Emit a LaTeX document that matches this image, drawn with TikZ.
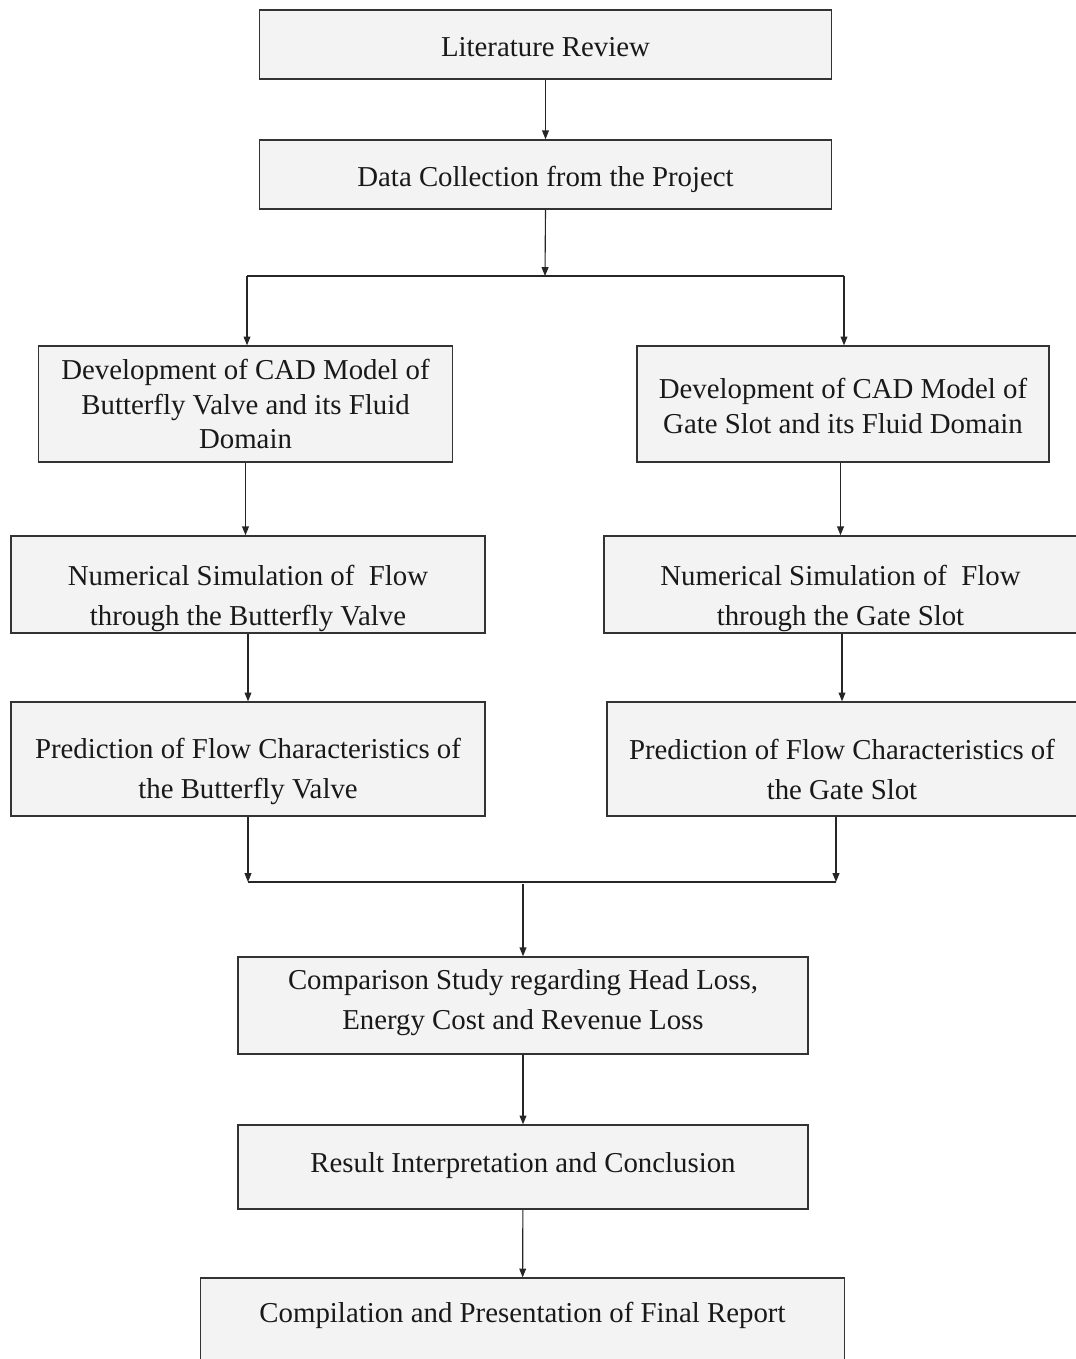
\documentclass[tikz,border=0pt]{standalone}
\usepackage{fontspec}
\setmainfont{Liberation Serif}
\usetikzlibrary{arrows.meta}
\definecolor{boxfill}{HTML}{F3F3F3}
\definecolor{boxline}{HTML}{333333}
\newcommand{\padtop}[1]{\rule{0pt}{#1}}
\newcommand{\padbot}[1]{\rule[-#1]{0pt}{0pt}}
\tikzset{
  box/.style={draw=boxline, fill=boxfill, line width=0.9pt, align=center, inner sep=0pt,
    font=\fontsize{20.5}{28.5}\selectfont, text=black!90},
  flow/.style={-{Triangle[length=2.2mm,width=1.7mm]}, line width=0.8pt, draw=black!85},
  link/.style={line width=0.8pt, draw=black!85}
}
\begin{document}
\begin{tikzpicture}[x=0.025cm,y=-0.025cm]
        \useasboundingbox (0,0) rectangle (1076,1359);

        % Cajas superiores
        \node[box, minimum width=14.28cm, minimum height=1.73cm] (lit) at (545.5,44.5) {\padtop{17pt}Literature Review};
        \node[box, minimum width=14.28cm, minimum height=1.73cm] (data) at (545.5,174.5) {\padtop{21pt}Data Collection from the Project};

        % Rama izquierda
        \node[box, minimum width=10.33cm, minimum height=2.9cm, font=\fontsize{20.5}{24.5}\selectfont] (cadL) at (245.5,404) {Development of CAD Model of\\Butterfly Valve and its Fluid\\Domain};
        \node[box, minimum width=11.85cm, minimum height=2.43cm] (numL) at (248,584.5) {\padtop{34pt}Numerical Simulation of\ \ Flow\\through the Butterfly Valve};
        \node[box, minimum width=11.85cm, minimum height=2.85cm] (predL) at (248,759) {\padtop{32pt}Prediction of Flow Characteristics of\\the Butterfly Valve};

        % Rama derecha
        \node[box, minimum width=10.3cm, minimum height=2.9cm, font=\fontsize{20.5}{24.5}\selectfont] (cadR) at (843,404) {\padtop{17pt}Development of CAD Model of\\Gate Slot and its Fluid Domain};
        \node[box, minimum width=11.82cm, minimum height=2.43cm] (numR) at (840.5,584.5) {\padtop{34pt}Numerical Simulation of\ \ Flow\\through the Gate Slot};
        \node[box, minimum width=11.75cm, minimum height=2.85cm] (predR) at (842,759) {\padtop{30pt}Prediction of Flow Characteristics of\\the Gate Slot};

        % Cajas inferiores
        \node[box, minimum width=14.25cm, minimum height=2.43cm] (comp) at (523,1005.5) {Comparison Study regarding Head Loss,\\Energy Cost and Revenue Loss\padbot{9pt}};
        \node[box, minimum width=14.25cm, minimum height=2.1cm] (res) at (523,1167) {Result Interpretation and Conclusion\padbot{7pt}};
        \node[box, minimum width=16.08cm, minimum height=2.3cm] (rep) at (522.5,1324) {Compilation and Presentation of Final Report\padbot{16pt}};

        % Puntos de union
        \coordinate (split) at (545,276);
        \coordinate (splitL) at (247,276);
        \coordinate (splitR) at (844,276);
        \coordinate (mergeL) at (248,882);
        \coordinate (mergeR) at (836,882);
        \coordinate (merge) at (523,884);

        % Flechas
        \draw[flow] (lit) -- (data);
        \draw[flow] (data.south) -- (split);
        \draw[link] (splitL) -- (splitR);
        \draw[flow] (splitL) -- (splitL |- cadL.north);
        \draw[flow] (splitR) -- (splitR |- cadR.north);
        \draw[flow] (cadL) -- (cadL |- numL.north);
        \draw[flow] (cadR.south -| numR) -- (numR);
        \draw[flow] (numL) -- (predL);
        \draw[flow] (numR.south -| predR) -- (predR);
        \draw[flow] (predL) -- (mergeL);
        \draw[flow] (mergeR |- predR.south) -- (mergeR);
        \draw[link] (mergeL) -- (mergeR);
        \draw[flow] (merge) -- (comp);
        \draw[flow] (comp) -- (res);
        \draw[flow] (res) -- (rep);
\end{tikzpicture}
\end{document}
